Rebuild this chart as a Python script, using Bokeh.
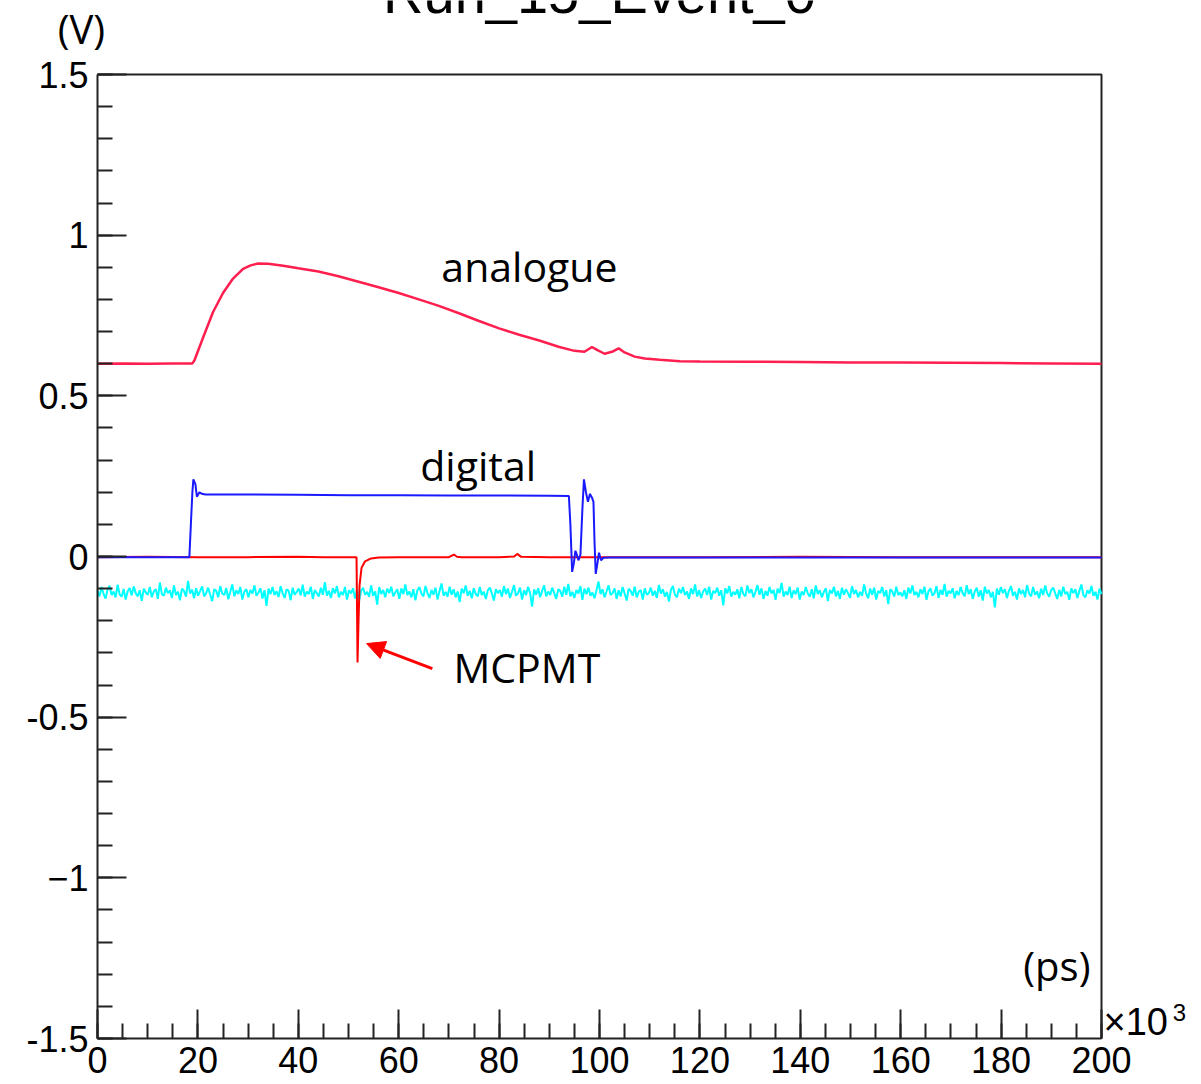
import numpy as np
from bokeh.plotting import figure
from bokeh.models import (Range1d, SingleIntervalTicker, Label, Arrow,
                          NormalHead, LinearAxis)
from bokeh.embed import file_html
from bokeh.resources import INLINE

# ---- waveform samples: time in units of 10^3 ps, amplitude in V ----

# analogue channel
analog_t = [0, 5, 10, 15, 18.9, 19.3, 21, 23, 25, 27, 29, 30.5, 32, 34, 37, 40,
            44, 48, 52, 56, 60, 64, 68, 72, 76, 80, 84, 88, 92, 95, 97, 98.5,
            99.5, 101, 102.5, 103.8, 105, 107, 109, 112, 116, 120, 130, 140,
            150, 160, 170, 180, 190, 200]
analog_v = [0.600, 0.601, 0.600, 0.601, 0.601, 0.610, 0.680, 0.760, 0.820,
            0.865, 0.895, 0.906, 0.912, 0.911, 0.905, 0.897, 0.887, 0.872,
            0.855, 0.838, 0.820, 0.800, 0.780, 0.757, 0.733, 0.710, 0.690,
            0.672, 0.652, 0.640, 0.637, 0.652, 0.643, 0.631, 0.637, 0.648,
            0.635, 0.622, 0.616, 0.612, 0.608, 0.607, 0.606, 0.605, 0.604,
            0.604, 0.603, 0.602, 0.601, 0.600]

# MCPMT channel
mcp_t = [0, 10, 20, 30, 40, 45, 51.6, 51.8, 52.0, 52.2, 52.6, 53.3, 54.5, 56,
         60, 70, 71, 71.6, 72.5, 80, 83, 83.6, 84.4, 90, 100, 120, 140, 160,
         180, 200]
mcp_v = [-0.002, -0.001, -0.002, -0.002, -0.001, -0.002, -0.002, -0.330,
         -0.200, -0.090, -0.035, -0.015, -0.006, -0.003, -0.002, -0.002,
         0.006, -0.001, -0.002, -0.002, 0.000, 0.008, -0.001, -0.002, -0.002,
         -0.002, -0.001, -0.002, -0.002, -0.002]

# digital channel
dig_t = [0, 10, 18.3, 18.6, 18.9, 19.1, 19.5, 19.8, 20.3, 20.8, 21.5, 30, 40,
         50, 60, 70, 80, 90, 93.9, 94.2, 94.55, 94.9, 95.2, 95.5, 95.8, 96.2,
         96.6, 96.9, 97.3, 97.7, 98.1, 98.5, 98.8, 99.0, 99.25, 99.6, 99.9,
         100.3, 100.8, 102, 110, 130, 150, 170, 190, 200]
dig_v = [-0.002, -0.002, -0.002, 0.100, 0.200, 0.240, 0.225, 0.186, 0.200,
         0.195, 0.193, 0.193, 0.192, 0.191, 0.191, 0.190, 0.190, 0.189, 0.188,
         0.100, -0.048, -0.020, 0.018, 0.005, -0.012, 0.005, 0.150, 0.240,
         0.200, 0.170, 0.195, 0.183, 0.170, 0.050, -0.054, -0.020, 0.012,
         -0.012, -0.004, -0.003, -0.003, -0.003, -0.003, -0.003, -0.003,
         -0.003]

# noise-only channel: pedestal and sample-by-sample deviation, in mV
noise_base_mv = -112
noise_dev_mv = [
    6, -12, 17, -4, -19, 9, 21, -8, 3, -15, 24, -6, -13, 11, -22, 4, 14, -9, 19, -2, -12, 7, -26, 12, 0,
    -7, 17, -15, 4, 10, -20, 31, -5, -10, 15, -2, 7, -17, 22, -8, 2, -24, 12, 5, -13, 36, -3, 9, -18, 13,
    -10, 4, 19, -12, -2, 15, -7, -27, 10, 5, -15, 20, -3, -8, 14, -21, 2, 25, -12, 7, -5, 17, -22, 3, 10,
    -15, 8, -3, 22, -10, 0, 13, -19, 7, -42, 12, -5, 17, -8, 4, -14, 20, -2, -17, 10, 5, -24, 15, -7, 2,
    12, -9, 24, -13, 3, -5, 18, -20, 8, -2, -12, 15, -7, 32, -10, 5, -17, 13, -3, 20, -15, 2, -8, 17, -22,
    7, -3, 13, -19, 10, -27, 5, 15, -7, 2, -13, 22, -10, 3, -38, 17, -5, 8, -15, 12, -2, 18, -12, 0, 10,
    -20, 13, -5, 25, -8, 3, -15, 10, -24, 7, 17, -3, -12, 20, -2, -17, 8, -7, 15, -22, 5, 28, -10, 2, -13,
    18, -7, 10, -15, 3, -30, 12, -2, 22, -10, 5, -18, 13, -5, -12, 17, -8, 2, -20, 7, 15, -3, -25, 10, -2,
    8, -13, 20, -5, 12, -17, 2, 23, -10, -3, 15, -22, 7, -8, 18, -2, -44, 10, -7, 13, -15, 5, 22, -12, 3,
    -8, 15, -2, -20, 10, 5, -13, 18, -7, 27, -12, 2, -17, 8, -3, 20, -23, 12, -5, 15, -10, 0, -18, 7, 34,
    -5, 10, -15, 3, 22, -8, -2, 13, -20, 7, -12, 17, -3, -25, 12, 5, -10, 18, -15, 2, 8, -22, 13, -7, -2,
    15, -10, 5, -17, 23, -3, 10, -13, 2, -28, 8, 20, -7, -15, 12, -2, 17, -8, 3, -20, 13, -5, 25, -12, 7,
    -17, 3, 12, -8, 18, -22, 5, -2, 15, -10, 7, -40, 13, -3, 20, -13, 2, -7, 10, -18, 17, -5, -12, 22, -2,
    10, -15, 2, 23, -7, 13, -20, 5, -10, 17, -3, 8, -23, 12, -2, 30, -13, 3, -8, 18, -17, 7, -5, 15, -22,
    3, -8, 17, -2, -13, 10, -18, 22, -5, 7, -15, 2, 13, -27, 8, -3, 18, -12, 5, -20, 15, -7, 10, -2, -17,
    20, -5, 8, -15, 2, -10, 25, -3, -18, 12, -7, 15, -22, 5, -2, 17, -12, 7, -36, 10, 3, -13, 18, -8, 0,
    -12, 7, -20, 15, -3, 22, -8, 2, -15, 10, -5, 18, -23, 3, 13, -10, -2, 20, -17, 8, -7, 27, -13, 5, -3,
    13, -18, 5, -8, 17, -2, -12, 23, -5, 10, -20, 3, 15, -13, 7, -25, 18, -3, 8, -15, 2, -46, 12, -7, 17,
    -2, 10, -17, 5, 20, -10, 2, -22, 13, -5, 8, -15, 23, -3, -12, 17, -7, 3, -18, 12, -8, 22, -2, -13, 7,
    15, -3, -20, 8, -12, 18, -5, 2, -23, 13, -2, 10, -17, 5, 25, -8, -15, 7, -3, 20, -10, 2, -22, 12, -5,
]
noise_t = np.linspace(0, 200, len(noise_dev_mv))
noise_v = (noise_base_mv + np.array(noise_dev_mv)) / 1000.0

y_tick_labels = {1.5: "1.5", 1: "1", 0.5: "0.5", 0: "0",
                 -0.5: "-0.5", -1: "\u22121", -1.5: "-1.5"}

# histogram box limits
X0, X1 = 0, 200
Y0, Y1 = -1.5, 1.5

# canvas geometry: the data box sits inside a larger frame so that
# the texts around it can be placed as plot labels
W, H = 1201, 1084
BOX_L, BOX_R, BOX_T, BOX_B = 97, 1101, 74, 1038
px_x = (BOX_R - BOX_L) / (X1 - X0)
px_y = (BOX_B - BOX_T) / (Y1 - Y0)
x_range = Range1d(X0 - BOX_L / px_x, X1 + (W - BOX_R) / px_x)
y_range = Range1d(Y0 - (H - BOX_B) / px_y, Y1 + BOX_T / px_y)

HELV = "Liberation Sans"
SANS = "Open Sans"
INK = "#222222"

p = figure(width=W, height=H, x_range=x_range, y_range=y_range,
           x_axis_type=None, y_axis_type=None,
           output_backend="svg", toolbar_location=None, min_border=0,
           background_fill_color="white", border_fill_color="white")
p.title.visible = False
p.xgrid.visible = False
p.ygrid.visible = False
p.outline_line_color = None

xaxis = LinearAxis(fixed_location=Y0, bounds=(X0, X1),
                   ticker=SingleIntervalTicker(interval=20, num_minor_ticks=4))
yaxis = LinearAxis(fixed_location=X0, bounds=(Y0, Y1),
                   ticker=SingleIntervalTicker(interval=0.5, num_minor_ticks=5),
                   major_label_overrides=y_tick_labels)
for ax in (xaxis, yaxis):
    ax.axis_line_color = INK
    ax.axis_line_width = 2
    ax.major_tick_in = 29
    ax.major_tick_out = 0
    ax.minor_tick_in = 15
    ax.minor_tick_out = 0
    ax.major_tick_line_color = INK
    ax.minor_tick_line_color = INK
    ax.major_tick_line_width = 2
    ax.minor_tick_line_width = 2
    ax.major_label_text_font = HELV
    ax.major_label_text_font_size = "36px"
    ax.major_label_text_color = "black"
xaxis.major_label_standoff = 8
yaxis.major_label_standoff = 9
p.add_layout(xaxis, "below")
p.add_layout(yaxis, "left")

# top and right edges of the box
p.line([X0, X1, X1], [Y1, Y1, Y0], line_color=INK, line_width=2)

# traces
p.line(noise_t, noise_v, line_color="#00ffff", line_width=2)
p.line(analog_t, analog_v, line_color="#ff1f4f", line_width=2.5)
p.line(mcp_t, mcp_v, line_color="#ff0000", line_width=2)
p.line(dig_t, dig_v, line_color="#1a1aff", line_width=2)

# pointer to the MCPMT pulse
p.add_layout(Arrow(x_start=66.7, y_start=-0.349, x_end=53.6, y_end=-0.271,
                   line_color="#ff0000", line_width=3,
                   end=NormalHead(size=18, fill_color="#ff0000",
                                  line_color="#ff0000")))

def add_text(x, y, text, font, size, align="left"):
    p.add_layout(Label(x=x, y=y, text=text, text_font=font,
                       text_font_size=size, text_align=align,
                       text_baseline="middle", text_color="black"))

add_text(100, 1.7533, "Run_15_Event_0", HELV, "56px", "center")
add_text(-3.2, 1.643, "(V)", SANS, "40px", "center")
add_text(68.5, 0.9025, "analogue", SANS, "41px")
add_text(64.3, 0.2863, "digital", SANS, "41px")
add_text(70.9, -0.3454, "MCPMT", SANS, "41px")
add_text(197.8, -1.2713, "(ps)", SANS, "40px", "right")
add_text(200.4, -1.4496, "\u00d710", HELV, "38px")
add_text(214.2, -1.4182, "3", HELV, "24px")

open("out.html", "w").write(file_html(p, INLINE))
